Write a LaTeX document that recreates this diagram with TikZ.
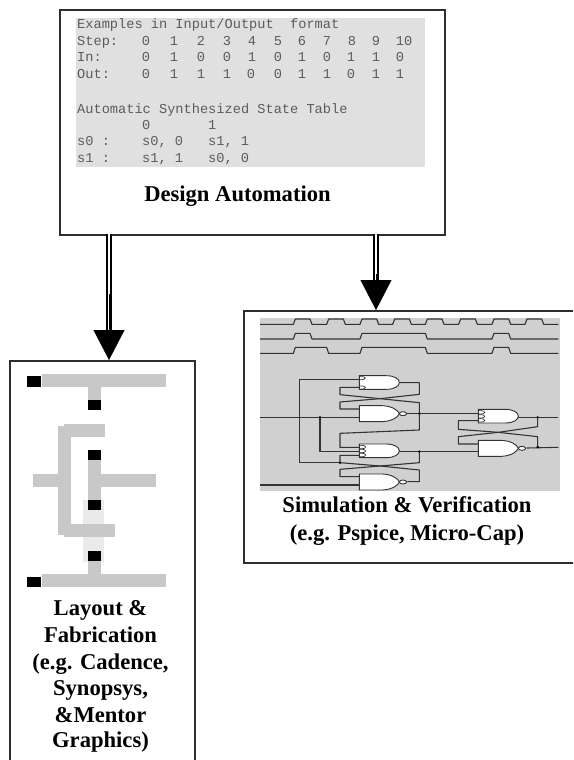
\documentclass[tikz,border=0pt]{standalone}
\usepackage{fontspec}
\setmainfont{Liberation Serif}
\newfontfamily\monof{Liberation Mono}
\usetikzlibrary{arrows.meta}
\definecolor{boxline}{HTML}{2E2E2E}
\definecolor{topgrey}{HTML}{E0E0E0}
\definecolor{simgrey}{HTML}{D0D0D0}
\definecolor{laygrey}{HTML}{C8C8C8}
\definecolor{laylight}{HTML}{EAEAEA}
\definecolor{monotext}{HTML}{5C5C5C}
\definecolor{wire}{HTML}{333333}
\tikzset{
  panel/.style={draw=boxline,line width=1.7pt,fill=white,inner sep=0pt,anchor=north west},
  mono/.style={font=\monof\fontsize{13.65}{16}\selectfont,text=monotext,inner sep=0pt},
  title/.style={font=\bfseries\fontsize{22.6}{27}\selectfont,text=black,inner sep=0pt,anchor=base},
  shaft/.style={draw=black,line width=2pt,double=white,double distance=2.4pt},
  headtip/.style={draw=black,line width=0.4pt,-{Triangle[length=30pt,width=31pt]}},
  wireline/.style={draw=wire,line width=1.1pt,line join=round},
  gatefill/.style={draw=wire,line width=0.9pt,fill=white},
  pin/.style={draw=wire,line width=0.7pt},
  jdot/.style={fill=black},
  andgate/.pic={\path[gatefill] (0,0) -- (80,0) .. controls (106,0) and (120,10) .. (120,20.5) .. controls (120,31) and (106,41) .. (80,41) -- (0,41) -- cycle;},
  nandgate/.pic={\path[gatefill] (0,0) -- (70,0) .. controls (100,2) and (116,14) .. (120,24) .. controls (116,34) and (100,46) .. (70,48) -- (0,48) -- cycle;
     \path[gatefill] (131,24) ellipse [x radius=11,y radius=6];},
  pinstop/.pic={\path[pin] (0,3) .. controls (22,1) and (26,13) .. (0,12);
     \path[pin] (0,31) .. controls (24,29) and (24,42) .. (0,41);},
  pinsmid/.pic={\path[pin] (2,4) .. controls (24,2) and (26,16) .. (2,14);
     \path[pin] (2,16) .. controls (24,14) and (26,28) .. (2,26);
     \path[pin] (2,28) .. controls (24,26) and (26,40) .. (2,38);}
}
\begin{document}
\begin{tikzpicture}[x=1pt,y=-1pt]
\useasboundingbox (0,0) rectangle (573,760);
\clip (0,0) rectangle (573,760);
\fill[white] (0,0) rectangle (573,760);

% panels
\node[panel,minimum width=385pt,minimum height=225pt] (design) at (59,9) {};
\node[panel,minimum width=185pt,minimum height=440pt] (layout) at (9,360) {};
\node[panel,minimum width=360pt,minimum height=252pt] (sim) at (243,310) {};

% connectors
\coordinate (d1) at (109,234);
\coordinate (l1) at (109,360);
\coordinate (d2) at (376,234);
\coordinate (s1) at (376,310);
\draw[shaft,shorten >=28pt] (d1) -- (l1);
\draw[headtip,shorten <=60pt] (d1) -- (l1);
\draw[shaft,shorten >=28pt] (d2) -- (s1);
\draw[headtip,shorten <=40pt] (d2) -- (s1);

% design panel text
\fill[topgrey] (76,18) rectangle (425,167);
\node[mono,anchor=base west] (hdr) at (77,29) {Examples in Input/Output\ \ format};
\node[mono,anchor=base west] (rstep) at (77,46) {Step:};
\node[mono,anchor=base west] (rin) at (77,62) {In:};
\node[mono,anchor=base west] (rout) at (77,78) {Out:};
\foreach \x/\d [count=\i] in {146/0,174/1,201/2,227/3,252/4,278/5,302/6,327/7,352/8,376/9,404/10}
  \node[mono,anchor=base] (st\i) at (\x,46) {\d};
\foreach \x/\d [count=\i] in {146/0,174/1,201/0,227/0,252/1,278/0,302/1,327/0,351/1,376/1,400/0}
  \node[mono,anchor=base] (in\i) at (\x,62) {\d};
\foreach \x/\d [count=\i] in {146/0,174/1,201/1,227/1,251/0,278/0,302/1,327/1,351/0,376/1,400/1}
  \node[mono,anchor=base] (ou\i) at (\x,78) {\d};
\node[mono,anchor=base west] (hdrb) at (77,113) {Automatic Synthesized State Table};
\node[mono,anchor=base west] (c0) at (142,129) {0};
\node[mono,anchor=base west] (c1) at (208,129) {1};
\node[mono,anchor=base west] (s0l) at (77,145) {s0 :};
\node[mono,anchor=base west] (s0a) at (142,145) {s0, 0};
\node[mono,anchor=base west] (s0b) at (208,145) {s1, 1};
\node[mono,anchor=base west] (s1l) at (77,162) {s1 :};
\node[mono,anchor=base west] (s1a) at (142,162) {s1, 1};
\node[mono,anchor=base west] (s1b) at (208,162) {s0, 0};
\node[title] (dtitle) at (237.5,201) {Design Automation};

% simulation picture (coordinates in thirds of a pixel)
\fill[simgrey] (260,318) rectangle (560,491);
\begin{scope}[shift={(240,300)},x=0.33333pt,y=-0.33333pt]
\draw[wireline] (60,73) -- (160,73) -- (166,57) -- (210,57) -- (216,73) -- (260,73) -- (266,57) -- (310,57) -- (316,73) -- (360,73) -- (366,57) -- (410,57) -- (416,73) -- (458,73) -- (464,57) -- (508,57) -- (514,73) -- (556,73) -- (562,57) -- (606,57) -- (612,73) -- (656,73) -- (662,57) -- (706,57) -- (712,73) -- (756,73) -- (762,57) -- (806,57) -- (812,73) -- (855,73) -- (861,57) -- (905,57) -- (911,73) -- (955,73);
\draw[wireline] (60,117) -- (160,117) -- (166,100) -- (210,100) -- (216,117) -- (360,117) -- (366,100) -- (556,100) -- (562,117) -- (756,117) -- (762,100) -- (806,100) -- (812,117) -- (955,117);
\draw[wireline] (60,160) -- (160,160) -- (166,142) -- (260,142) -- (266,160) -- (360,160) -- (366,142) -- (556,142) -- (562,160) -- (756,160) -- (762,142) -- (806,142) -- (812,160) -- (955,160);
% wires, left latches
\draw[wireline] (358,238) -- (178,238) -- (178,488) -- (300,488);
\draw[wireline] (60,352) -- (358,352);
\draw[wireline] (240,352) -- (240,455) -- (358,455);
\draw[wireline] (60,555) -- (358,555);
\draw[wireline] (478,248) -- (538,248) -- (538,283) -- (420,296) -- (300,306) -- (300,327) -- (358,327);
\draw[wireline] (358,262) -- (300,262) -- (300,284) -- (420,296) -- (538,308) -- (538,390) -- (300,400) -- (300,442) -- (358,442);
\draw[wireline] (500,341) -- (715,341);
\draw[wireline] (478,455) -- (715,455);
\draw[wireline] (538,455) -- (538,488) -- (420,498) -- (300,508) -- (300,530) -- (358,530);
\draw[wireline] (358,466) -- (300,466) -- (300,488) -- (420,498) -- (538,510) -- (538,545) -- (502,545);
% wires, right latch
\draw[wireline] (835,352) -- (955,352);
\draw[wireline] (893,352) -- (893,380) -- (775,397) -- (655,410) -- (655,432) -- (715,432);
\draw[wireline] (715,362) -- (655,362) -- (655,388) -- (775,397) -- (893,410) -- (893,441);
\draw[wireline] (860,444) -- (955,442);
% gates
\pic at (358,227) {andgate};
\pic at (358,227) {pinstop};
\pic at (358,317) {nandgate};
\pic at (358,432) {andgate};
\pic at (358,432) {pinsmid};
\pic at (358,522) {nandgate};
\pic at (715,328) {andgate};
\pic at (715,328) {pinsmid};
\pic at (715,421) {nandgate};
% junctions
\foreach \p in {(240,352),(538,341),(300,488),(538,455),(893,352),(893,441)}
  \fill[jdot] \p circle [radius=1.4pt];
\end{scope}
\node[title] (stitle) at (407,512) {Simulation \& Verification};
\node[title] (stitleb) at (407,540) {(e.g. Pspice, Micro-Cap)};

% layout picture (coordinates in thirds of a pixel)
\begin{scope}[shift={(0,350)},x=0.33333pt,y=-0.33333pt]
\fill[laylight] (250,450) rectangle (312,635);
\fill[laygrey] (125,73) rectangle (498,110);
\fill[laygrey] (265,110) rectangle (303,150);
\fill[laygrey] (192,223) rectangle (315,260);
\fill[laygrey] (173,228) rectangle (213,555);
\fill[laygrey] (100,373) rectangle (173,410);
\fill[laygrey] (192,522) rectangle (345,560);
\fill[laygrey] (265,330) rectangle (303,450);
\fill[laygrey] (303,373) rectangle (467,410);
\fill[laygrey] (265,632) rectangle (303,675);
\fill[laygrey] (125,673) rectangle (498,712);
\fill[black] (82,77) rectangle (122,110);
\fill[black] (265,150) rectangle (303,180);
\fill[black] (265,300) rectangle (303,330);
\fill[black] (265,450) rectangle (303,480);
\fill[black] (265,603) rectangle (303,632);
\fill[black] (82,680) rectangle (122,710);
\end{scope}
\node[title] (ltitle) at (100.5,615) {Layout \&};
\node[title] (ltitleb) at (100.5,642) {Fabrication};
\node[title] (ltitlec) at (100.5,669) {(e.g. Cadence,};
\node[title] (ltitled) at (100.5,695) {Synopsys,};
\node[title] (ltitlee) at (100.5,722) {\&Mentor};
\node[title] (ltitlef) at (100.5,747) {Graphics)};
\end{tikzpicture}
\end{document}
